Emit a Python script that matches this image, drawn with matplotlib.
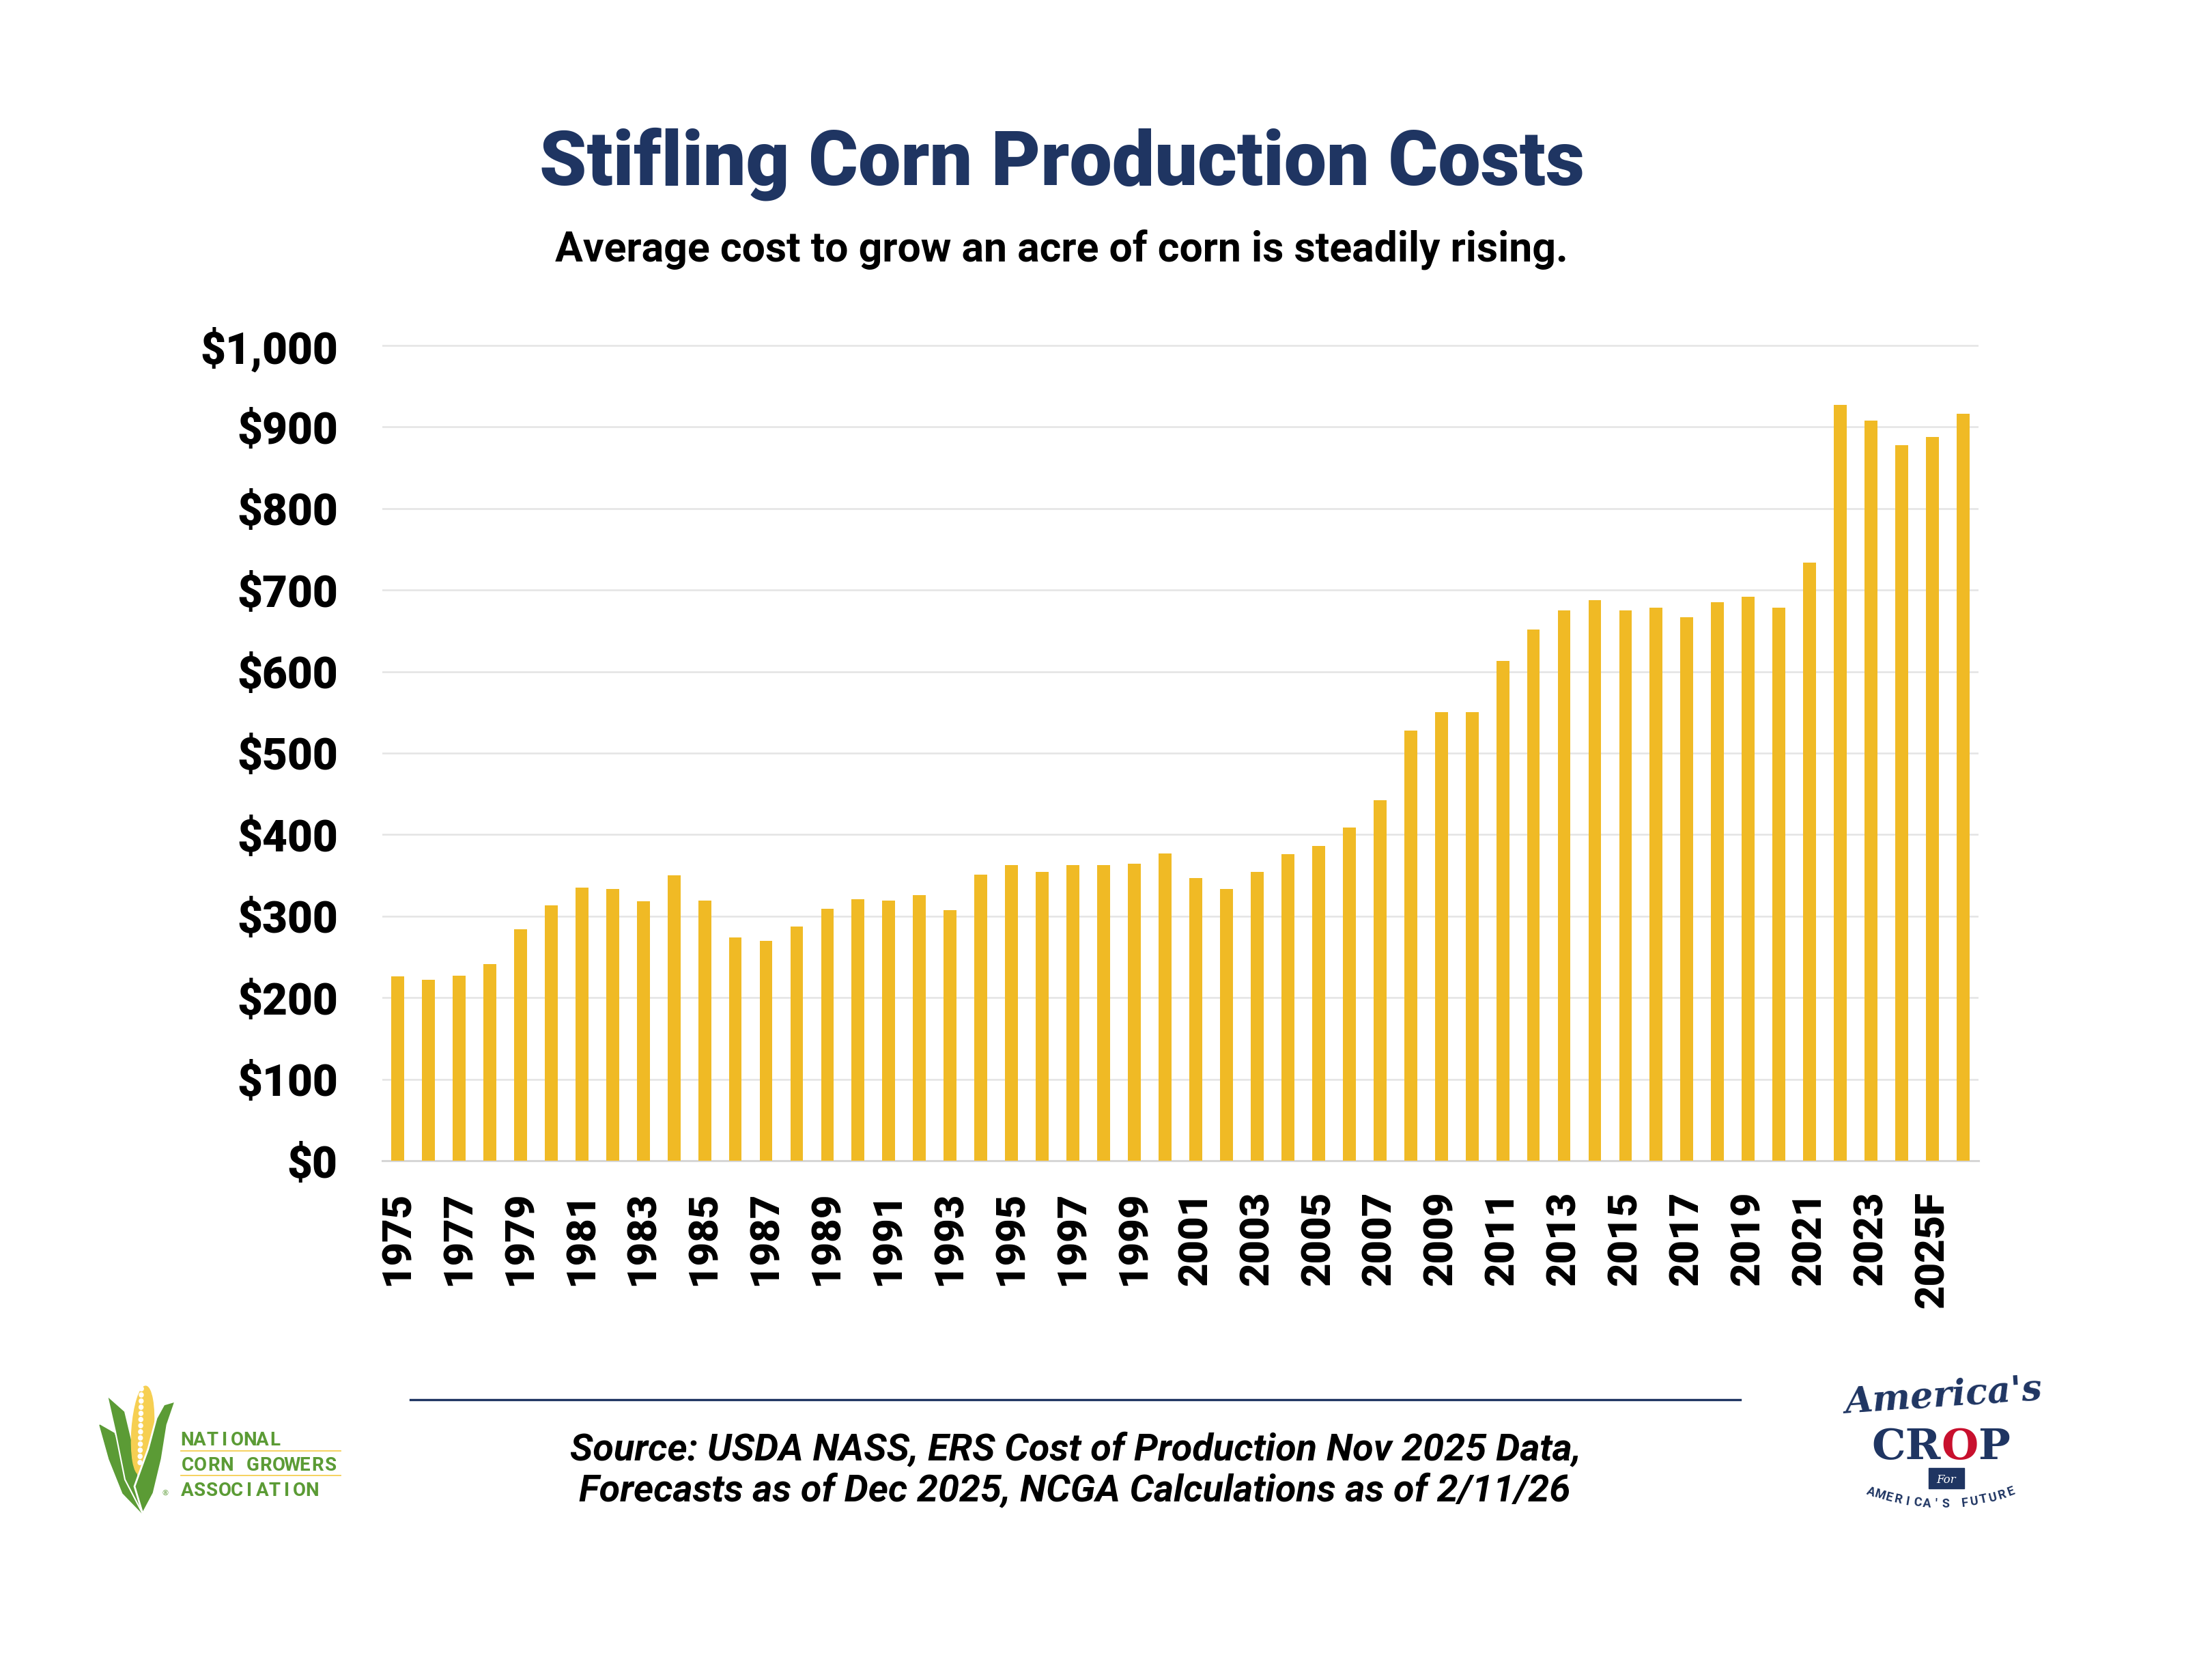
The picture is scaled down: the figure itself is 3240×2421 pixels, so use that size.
import matplotlib
matplotlib.use("Agg")
import matplotlib.pyplot as plt
import numpy as np
from matplotlib.patches import Polygon, Ellipse, Rectangle

# ---------------- data ----------------
years = [str(y) for y in range(1975, 2025)] + ["2025F", "2026F"]
costs = [226, 222, 227, 241, 284, 313, 335, 333, 318, 350,
         319, 274, 270, 287, 309, 321, 319, 326, 307, 351,
         363, 354, 363, 363, 364, 377, 347, 333, 354, 376,
         386, 409, 442, 528, 550, 550, 613, 652, 675, 688,
         675, 678, 667, 685, 692, 678, 734, 927, 908, 878,
         888, 916]
ytick_values = [0, 100, 200, 300, 400, 500, 600, 700, 800, 900, 1000]
ytick_labels = ["$0", "$100", "$200", "$300", "$400", "$500",
                "$600", "$700", "$800", "$900", "$1,000"]
title = "Stifling Corn Production Costs"
subtitle = "Average cost to grow an acre of corn is steadily rising."
source_lines = ["Source: USDA NASS, ERS Cost of Production Nov 2025 Data,",
                "Forecasts as of Dec 2025, NCGA Calculations as of 2/11/26"]

# ---------------- style ----------------
W, H = 3241, 2421
NAVY = "#1F3562"
GOLD = "#F0BA25"
GREEN = "#5B9B35"
RED = "#C8102E"
FONT = "Roboto"

fig = plt.figure(figsize=(W / 100, H / 100), dpi=100)
fig.patch.set_facecolor("white")
renderer = fig.canvas.get_renderer()


def px(x, y):
    return x / W, 1 - y / H


def fit(t, width):
    w = t.get_window_extent(renderer=renderer).width
    t.set_fontsize(t.get_fontsize() * width / w)
    return t


# ---------------- axes ----------------
left, right, bottom_px = 560, 2898, 1700
ytop = 1004
top_px = bottom_px - 1194 * ytop / 1000
ax = fig.add_axes([left / W, 1 - bottom_px / H, (right - left) / W,
                   (bottom_px - top_px) / H])
x = np.arange(len(years))
ax.bar(x, costs, width=0.42, color=GOLD, zorder=3)
ax.set_xlim(-0.5, len(years) - 0.5)
ax.set_ylim(0, ytop)
ax.yaxis.grid(True, color="#e4e4e4", lw=1.8, zorder=0)
ax.set_axisbelow(True)
for s in ["top", "left", "right"]:
    ax.spines[s].set_visible(False)
ax.spines["bottom"].set_color("#d6d6d6")
ax.spines["bottom"].set_linewidth(2.2)
ax.tick_params(axis="both", length=0)
ax.set_yticks(ytick_values)
ax.set_yticklabels(ytick_labels, fontsize=46, fontweight="black",
                   family=FONT, color="black")
ax.tick_params(axis="y", pad=47)
ax.set_xticks(x[::2])
ax.set_xticklabels(years[::2], rotation=90, fontsize=43,
                   fontweight="black", family=FONT, color="black")
ax.tick_params(axis="x", pad=32)

# ---------------- titles ----------------
t = fig.text(*px(1555, 271), title, ha="center", va="baseline",
             color=NAVY, fontsize=80, fontweight="black", family=FONT)
fit(t, 1531)
t = fig.text(*px(1555, 384), subtitle, ha="center", va="baseline",
             color="black", fontsize=35, fontweight="bold", family=FONT)
fit(t, 1485)

# ---------------- footer ----------------
fig.add_artist(plt.Line2D([601 / W, 2549 / W], [1 - 2050 / H] * 2,
                          color=NAVY, lw=2.4))
t = fig.text(*px(1575, 2138), source_lines[0], ha="center", va="baseline",
             color="black", fontsize=30, fontweight="bold", style="italic",
             family=FONT)
fit(t, 1481)
t = fig.text(*px(1574, 2198), source_lines[1], ha="center", va="baseline",
             color="black", fontsize=30, fontweight="bold", style="italic",
             family=FONT)
fit(t, 1450)

# ---------------- NCGA logo ----------------
lax = fig.add_axes([145 / W, 1 - 2217 / H, 113 / W, 192 / H])
lax.set_xlim(0, 113)
lax.set_ylim(0, 192)
lax.axis("off")
lax.add_patch(Polygon([(64, 0), (35, 30), (15, 80), (1, 130), (22, 118),
                       (40, 70), (60, 20)], closed=True, color=GREEN))
lax.add_patch(Polygon([(64, 0), (38, 50), (24, 120), (12, 173), (38, 150),
                       (50, 100), (62, 30)], closed=True, color=GREEN,
                      ec="white", lw=1.5))
lax.add_patch(Ellipse((64, 122), 32, 130, angle=-4, color="#F6CF52"))
for yy in np.arange(75, 185, 9):
    lax.add_patch(Ellipse((60 + (yy - 75) * 0.02, yy), 6, 6.5,
                          color="white"))
lax.add_patch(Polygon([(64, 0), (80, 30), (92, 80), (100, 130), (112, 165),
                       (95, 160), (84, 140), (72, 95), (52, 40)],
                      closed=True, color=GREEN, ec="white", lw=2))


def spaced(text, x0, x1, ybase, size):
    n = len(text)
    step = (x1 - x0) / n
    for i, ch in enumerate(text):
        fig.text(*px(x0 + (i + 0.5) * step, ybase), ch, ha="center",
                 va="baseline", color=GREEN, fontsize=size,
                 fontweight="bold", family=FONT)


spaced("NATIONAL", 265, 412, 2117, 20)
spaced("CORN GROWERS", 265, 494, 2154, 20)
spaced("ASSOCIATION", 265, 466, 2191, 20)
for yy in (2125, 2161):
    fig.add_artist(plt.Line2D([265 / W, 499 / W], [1 - yy / H] * 2,
                              color="#F6CF52", lw=1.3))
fig.text(*px(242, 2190), "®", ha="center", va="baseline", color=GREEN,
         fontsize=8, family="DejaVu Sans")

# ---------------- America's Crop logo ----------------
t = fig.text(*px(2846, 2070), "America's", ha="center", va="baseline",
             color=NAVY, fontsize=40, fontweight="bold", style="italic",
             family="DejaVu Serif", rotation=4)
fit(t, 292)
pieces = [("CR", NAVY), ("O", RED), ("P", NAVY)]
txts = []
for s, c in pieces:
    txts.append(fig.text(0, 1 - 2137 / H, s, ha="left", va="baseline",
                         color=c, fontsize=60, fontweight="bold",
                         family="DejaVu Serif"))
widths = [tt.get_window_extent(renderer=renderer).width for tt in txts]
scale = 203 / sum(widths)
for tt in txts:
    tt.set_fontsize(tt.get_fontsize() * scale)
widths = [w * scale for w in widths]
xc = 2843 - 203 / 2
for tt, w in zip(txts, widths):
    tt.set_x(xc / W)
    xc += w
fig.add_artist(Rectangle((2825 / W, 1 - 2180 / H), 52 / W, 30 / H,
                         color=NAVY, transform=fig.transFigure))
fig.text(*px(2851, 2172), "For", ha="center", va="baseline", color="white",
         fontsize=12, style="italic", family="DejaVu Serif")
arc_text = "AMERICA'S FUTURE"
R = 300
cx, cy = 2843, 2203 - R
span = np.radians(40)
n = len(arc_text)
for i, ch in enumerate(arc_text):
    a = span / 2 - span * i / (n - 1)
    xx = cx - R * np.sin(a)
    yy = cy + R * np.cos(a)
    fig.text(*px(xx, yy), ch, ha="center", va="center", color=NAVY,
             fontsize=13, fontweight="bold", family=FONT,
             rotation=-np.degrees(a), rotation_mode="anchor")

fig.savefig("out.png", dpi=100, facecolor="white")
